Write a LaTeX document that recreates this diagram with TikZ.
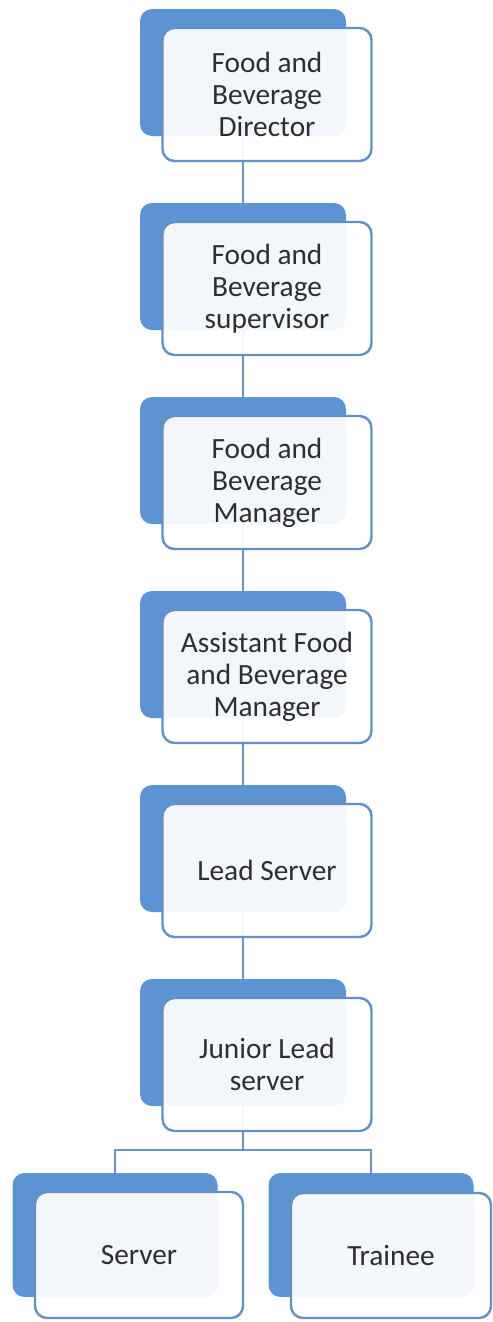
\documentclass[tikz,border=0pt]{standalone}
\usepackage{fontspec}
\setmainfont{Carlito}
\usetikzlibrary{calc}
\definecolor{backblue}{HTML}{5B93D3}
\definecolor{edgeblue}{HTML}{6590C3}
\definecolor{linkblue}{HTML}{6A92C2}
\definecolor{inktext}{HTML}{2E2E2E}
\tikzset{
  backbox/.style={draw=none, fill=backblue, rounded corners=9pt,
    minimum width=154.5pt, minimum height=95.25pt, inner sep=0pt},
  frontbox/.style={draw=edgeblue, line width=1.8pt, fill=white, fill opacity=0.93,
    draw opacity=1, text opacity=1, text=inktext, rounded corners=9pt, align=center,
    minimum width=156.75pt, minimum height=99.75pt, inner sep=0pt,
    font=\fontsize{22}{24}\selectfont},
  link/.style={draw=linkblue, line width=1.8pt}
}
\begin{document}
\begin{tikzpicture}[x=0.75pt, y=-0.75pt]
\useasboundingbox (0,0) rectangle (493,1322);
\fill[white] (0,0) rectangle (493,1322);

% shadow plates behind each position
\node[backbox] (dir-b) at (243,72.5) {};
\node[backbox] (sup-b) at (243,266.5) {};
\node[backbox] (man-b) at (243,460.5) {};
\node[backbox] (asm-b) at (243,654.5) {};
\node[backbox] (lead-b) at (243,848.5) {};
\node[backbox] (jun-b) at (243,1042.5) {};
\node[backbox, minimum width=153.75pt, minimum height=93pt] (srv-b) at (115,1235) {};
\node[backbox, minimum width=153.75pt, minimum height=93pt] (trn-b) at (371,1235) {};

% reporting lines
\draw[link] (dir-b.south) -- (sup-b.north);
\draw[link] (sup-b.south) -- (man-b.north);
\draw[link] (man-b.south) -- (asm-b.north);
\draw[link] (asm-b.south) -- (lead-b.north);
\draw[link] (lead-b.south) -- (jun-b.north);
\coordinate (split) at (243,1150);
\draw[link] (jun-b.south) -- (split);
\draw[link] (srv-b.north) |- (split) -| (trn-b.north);

% position cards
\node[frontbox] (dir) at (267,94.5) {Food and\\Beverage\\Director};
\node[frontbox] (sup) at (267,288.5) {Food and\\Beverage\\supervisor};
\node[frontbox] (man) at (267,482.5) {Food and\\Beverage\\Manager};
\node[frontbox] (asm) at (267,676.5) {Assistant Food\\and Beverage\\Manager};
\node[frontbox] (lead) at (267,870.5) {Lead Server};
\node[frontbox] (jun) at (267,1064.5) {Junior Lead\\server};
\node[frontbox, minimum width=156pt, minimum height=94.5pt] (srv) at (139,1255) {Server};
\node[frontbox, minimum width=150pt, minimum height=93.75pt] (trn) at (391,1255.5) {Trainee};
\end{tikzpicture}
\end{document}
